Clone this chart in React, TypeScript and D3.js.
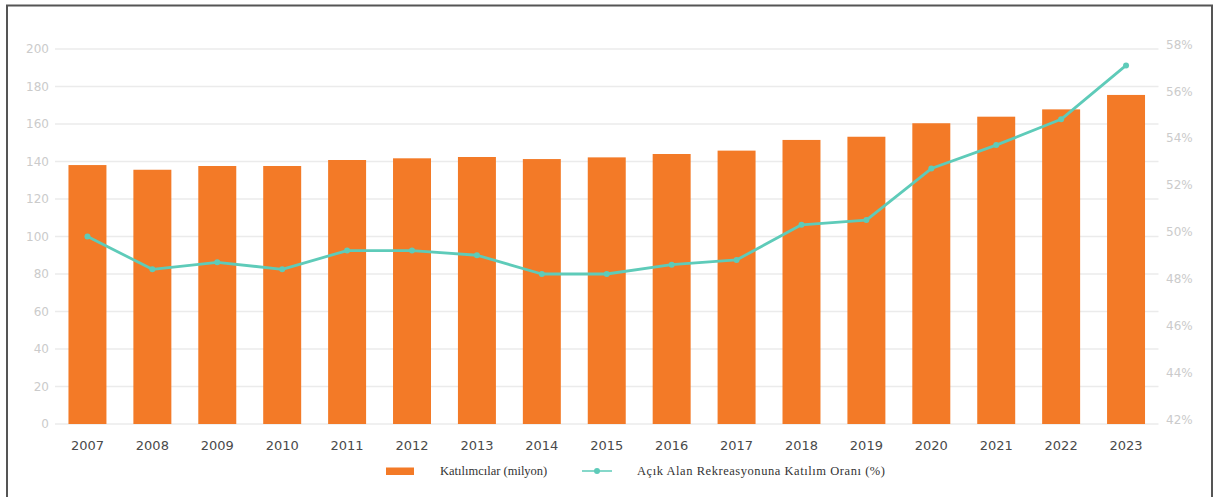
import * as d3 from "d3";

const years = ["2007", "2008", "2009", "2010", "2011", "2012", "2013", "2014", "2015", "2016", "2017", "2018", "2019", "2020", "2021", "2022", "2023"];
const participants = [138.1, 135.6, 137.6, 137.6, 140.8, 141.7, 142.4, 141.3, 142.2, 144.0, 145.8, 151.5, 153.2, 160.4, 163.9, 167.8, 175.5];
const rate = [50.0, 48.6, 48.9, 48.6, 49.4, 49.4, 49.2, 48.4, 48.4, 48.8, 49.0, 50.5, 50.7, 52.9, 53.9, 55.0, 57.3];
const leftTicks = [0, 20, 40, 60, 80, 100, 120, 140, 160, 180, 200];
const rightTicks = [42, 44, 46, 48, 50, 52, 54, 56, 58];
const barLabel = "Katılımcılar (milyon)";
const lineLabel = "Açık Alan Rekreasyonuna Katılım Oranı (%)";

const W = 1217;
const H = 497;
const BAR = "#f37a27";
const TEAL = "#5ecbb9";

export default function App() {
  // plot area
  const left = 55;
  const right = 1158.5;
  const top = 49;
  const bottom = 424;

  const x = d3.scaleBand<string>().domain(years).range([left, right]).paddingInner(0.415).paddingOuter(0.2075);
  const yL = d3.scaleLinear().domain([0, 200]).range([bottom, top]);
  const yR = d3.scaleLinear().domain([42, 58]).range([bottom, top]);

  const line = d3
    .line<number>()
    .x((_, i) => (x(years[i]) as number) + x.bandwidth() / 2)
    .y((d) => yR(d));

  return (
    <div style={{ position: "fixed", left: 0, top: 0 }}>
      <svg width={W} height={H} style={{ display: "block", background: "#fff" }}>
        {/* frame */}
        <path d={`M7,${H} V5.5 H1212 V${H}`} fill="none" stroke="#555" strokeWidth={2} />

        {/* gridlines */}
        {leftTicks.map((t) => (
          <line key={t} x1={left} x2={right} y1={yL(t)} y2={yL(t)} stroke="#ebebeb" strokeWidth={1.5} />
        ))}

        {/* left axis labels */}
        {leftTicks.map((t) => (
          <text key={t} x={49} y={yL(t)} dy="0.35em" textAnchor="end" fontFamily="DejaVu Sans" fontSize={12} fill="#cbcbcb">
            {t}
          </text>
        ))}

        {/* right axis labels */}
        {rightTicks.map((t) => (
          <text key={t} x={1166} y={yR(t) - 4.5} dy="0.35em" textAnchor="start" fontFamily="DejaVu Sans" fontSize={12} fill="#cbcbcb">
            {t}%
          </text>
        ))}

        {/* bars */}
        {participants.map((v, i) => (
          <rect key={years[i]} x={x(years[i])} y={yL(v)} width={x.bandwidth()} height={yL(0) - yL(v)} fill={BAR} />
        ))}

        {/* line */}
        <path d={line(rate) || ""} fill="none" stroke={TEAL} strokeWidth={2.8} strokeLinejoin="round" />
        {rate.map((v, i) => (
          <circle key={years[i]} cx={(x(years[i]) as number) + x.bandwidth() / 2} cy={yR(v)} r={3} fill={TEAL} />
        ))}

        {/* x labels */}
        {years.map((yr) => (
          <text key={yr} x={(x(yr) as number) + x.bandwidth() / 2} y={450} textAnchor="middle" fontFamily="DejaVu Sans" fontSize={13} fill="#4a4a4a">
            {yr}
          </text>
        ))}

        {/* legend */}
        <rect x={386} y={467.5} width={28} height={7.5} fill={BAR} />
        <text x={440} y={475} fontFamily="Liberation Serif" fontSize={12.5} fill="#333">
          {barLabel}
        </text>
        <line x1={582} x2={612} y1={471} y2={471} stroke={TEAL} strokeWidth={1.5} />
        <circle cx={597} cy={471} r={3} fill={TEAL} />
        <text x={637} y={475} fontFamily="Liberation Serif" fontSize={12.5} letterSpacing={0.55} fill="#333">
          {lineLabel}
        </text>
      </svg>
    </div>
  );
}
